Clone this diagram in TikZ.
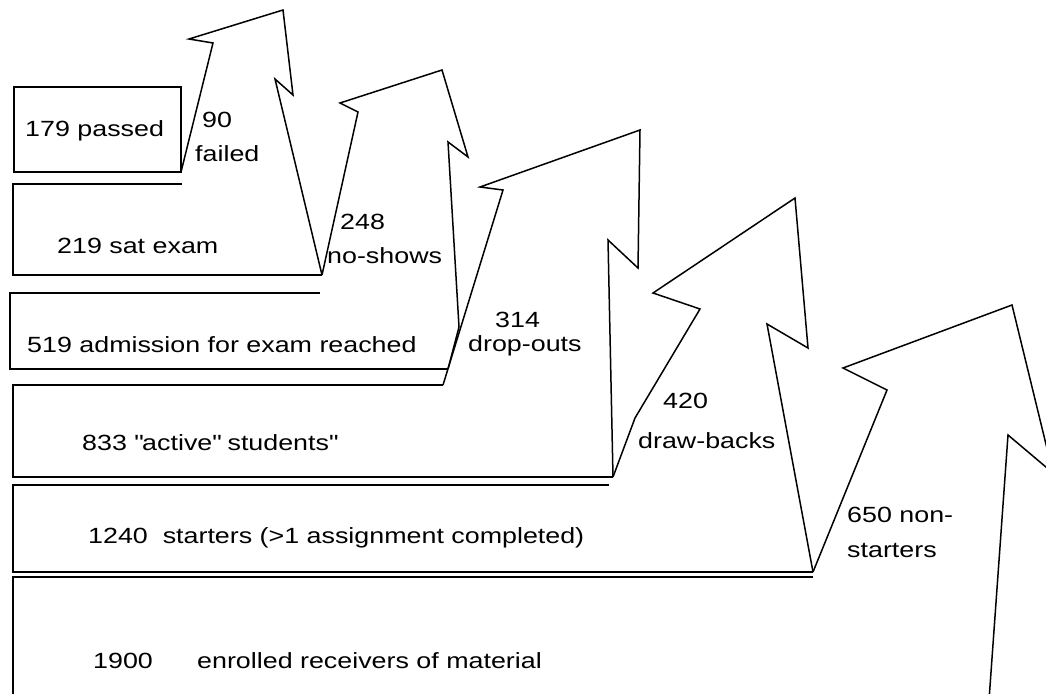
\documentclass[tikz,border=0pt]{standalone}
\usepackage{fontspec}
\setmainfont[FakeStretch=1.22]{Liberation Sans}

\begin{document}
\begin{tikzpicture}[x=1pt, y=-1pt, font={\fontsize{22pt}{26pt}\selectfont},
    box/.style={line width=1.8pt, line join=miter},
    jag/.style={line width=1.5pt, line join=miter},
    lbl/.style={anchor=base west, inner sep=0pt}]
      \useasboundingbox (0,0) rectangle (1046,693);
      \clip (0,0) rectangle (1046,693);
      % corners
      \coordinate (pass) at (181,172);
      \coordinate (sat) at (322,275);
      \coordinate (adm) at (448,369);
      \coordinate (act top) at (443,385);
      \coordinate (act) at (613,477);
      \coordinate (start) at (813,572);
      \coordinate (enrol) at (989,700);

      % boxes
      \draw[box] (14,87) rectangle (pass);
      \draw[box] (182,184) -- (13,184) -- (13,275) -- (sat);
      \draw[box] (320,293) -- (10,293) -- (10,369) -- (adm);
      \draw[box] (act top) -- (13,385) -- (13,477) -- (act);
      \draw[box] (609,485) -- (13,485) -- (13,572) -- (start);
      \draw[box] (813,577) -- (13,577) -- (13,700);

      % arrows
      \draw[jag] (pass) -- (213,43) -- (189,39) -- (283,10) -- (293,95) -- (275,79) -- (sat);
      \draw[jag] (sat) -- (358,112) -- (340,103) -- (442,70) -- (468,157) -- (448,142) -- (459,327) -- (adm);
      \draw[jag] (act top) -- (503,190) -- (480,187) -- (640,130) -- (638,268) -- (608,240) -- (act);
      \draw[jag] (act) -- (635,418) -- (700,309) -- (653,293) -- (795,198) -- (808,348) -- (767,324) -- (start);
      \draw[jag] (start) -- (887,390) -- (843,368) -- (1012,305) -- (1053,473) -- (1008,435) -- (enrol);

      % labels
      \node[lbl] (passed) at (25,136) {179 passed};
      \node[lbl] (failed n) at (202,127) {90};
      \node[lbl] (failed) at (195,161) {failed};
      \node[lbl] (satexam) at (57,253) {219 sat exam};
      \node[lbl] (noshow n) at (340,229) {248};
      \node[lbl] (noshow) at (327,263) {no-shows};
      \node[lbl] (admission) at (27,352) {519 admission for exam reached};
      \node[lbl] (dropout n) at (495,327) {314};
      \node[lbl] (dropout) at (468,351) {drop-outs};
      \node[lbl] (active) at (82,450) {833 \textquotedbl active\textquotedbl{} students\textquotedbl};
      \node[lbl] (drawback n) at (663,408) {420};
      \node[lbl] (drawback) at (638,448) {draw-backs};
      \node[lbl] (starters) at (88,543) {1240\ \ starters (>1 assignment completed)};
      \node[lbl] (nonstart n) at (847,522) {650 non-};
      \node[lbl] (nonstart) at (847,557) {starters};
      \node[lbl] (enrolled n) at (93,668) {1900};
      \node[lbl] (enrolled) at (197,668) {enrolled receivers of material};
\end{tikzpicture}
\end{document}
